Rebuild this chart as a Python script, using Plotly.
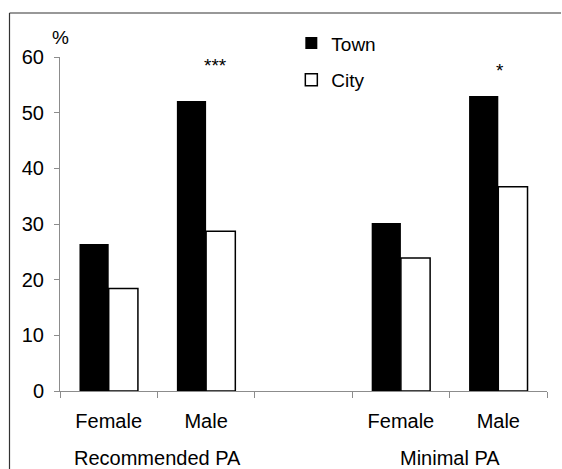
import plotly.graph_objects as go

# Share of participants meeting physical-activity levels, by sex and residence
positions = [0, 1, 3, 4]
sex_labels = ["Female", "Male", "Female", "Male"]
group_labels = ["Recommended PA", "Minimal PA"]
group_centers = [0.5, 3.5]
town = [26.4, 52.1, 30.2, 53.0]
city = [18.4, 28.7, 23.9, 36.7]
y_ticks = [0, 10, 20, 30, 40, 50, 60]

FONT = "Liberation Sans, Arial, sans-serif"
W, H = 562, 469
L, R, T, B = 60, 15, 57, 78

fig = go.Figure()
fig.add_trace(go.Bar(
    x=positions, y=town, name="Town",
    marker=dict(color="black", line=dict(color="black", width=0)),
    legendgroup="town",
))
fig.add_trace(go.Bar(
    x=positions, y=city, name="City",
    marker=dict(color="white", line=dict(color="black", width=1.5)),
    legendgroup="city",
))

# group captions under the sex labels
for label, xc in zip(group_labels, group_centers):
    fig.add_annotation(x=xc, y=0, xref="x", yref="y", yshift=-67,
                       text=label, showarrow=False,
                       font=dict(family=FONT, size=20, color="black"),
                       xanchor="center", yanchor="middle")

# significance markers
fig.add_annotation(x=1.1, y=58.5, xref="x", yref="y", text="***",
                   showarrow=False, font=dict(family=FONT, size=19, color="black"))
fig.add_annotation(x=4.02, y=57.5, xref="x", yref="y", text="*",
                   showarrow=False, font=dict(family=FONT, size=19, color="black"))

# unit label above the y axis
fig.add_annotation(x=0, y=1, xref="paper", yref="paper", xshift=-10, yshift=32,
                   text="%", showarrow=False,
                   font=dict(family=FONT, size=19, color="black"))

pw = W - L - R
ph = H - T - B
# outer frame: left and top edges (the others fall outside the page)
frame_left = (9.5 - L) / pw
frame_top = (H - B - 13) / ph
frame_line = dict(color="#333333", width=1.2)
fig.add_shape(type="line", xref="paper", yref="paper",
              x0=frame_left, x1=frame_left, y0=-(B + 5) / ph, y1=frame_top,
              line=frame_line, layer="below")
fig.add_shape(type="line", xref="paper", yref="paper",
              x0=frame_left, x1=(W - 1 - L) / pw, y0=frame_top, y1=frame_top,
              line=frame_line, layer="below")

fig.update_layout(
    width=W, height=H,
    margin=dict(l=L, r=R, t=T, b=B),
    paper_bgcolor="white", plot_bgcolor="white",
    barmode="group", bargap=0.40, bargroupgap=0,
    font=dict(family=FONT, size=20, color="black"),
    showlegend=True,
    legend=dict(x=0.475, y=1.098, xanchor="left", yanchor="top",
                bgcolor="rgba(0,0,0,0)", tracegroupgap=9,
                font=dict(family=FONT, size=19, color="black")),
    xaxis=dict(
        range=[-0.5, 4.5], tickmode="array", tickvals=positions, ticktext=sex_labels,
        ticks="", showline=True, linecolor="#8c8c8c", linewidth=1,
        showgrid=False, zeroline=False, fixedrange=True, ticklabelstandoff=12,
        tickfont=dict(family=FONT, size=20, color="black"),
        minor=dict(ticks="outside", tick0=-0.5, dtick=1, ticklen=6,
                   tickcolor="#8c8c8c", tickwidth=1, showgrid=False),
    ),
    yaxis=dict(
        range=[0, 60], tickmode="array", tickvals=y_ticks,
        ticks="outside", ticklen=5, tickcolor="#8c8c8c", tickwidth=1,
        showline=True, linecolor="#8c8c8c", linewidth=1,
        showgrid=False, zeroline=False, ticklabelstandoff=6,
        tickfont=dict(family=FONT, size=20, color="black"),
    ),
)

fig.write_html("out.html")
